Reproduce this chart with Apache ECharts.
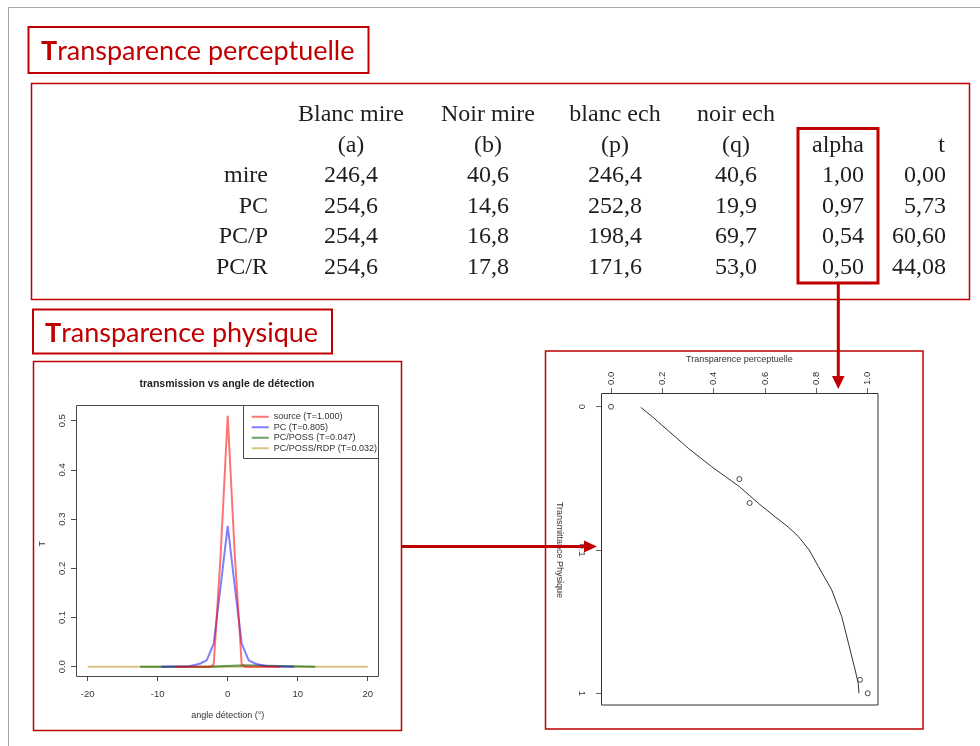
<!DOCTYPE html>
<html><head><meta charset="utf-8">
<script src="https://cdn.jsdelivr.net/npm/echarts@6/dist/echarts.min.js"></script>
<style>html,body{margin:0;padding:0;background:#fff}#c{width:980px;height:746px}</style>
</head><body><div id="c"></div>
<script>
// ---------- table data ----------
const colHeads = ['Blanc mire', 'Noir mire', 'blanc ech', 'noir ech'];
const colSubs = ['(a)', '(b)', '(p)', '(q)'];
const rowLabels = ['mire', 'PC', 'PC/P', 'PC/R'];
const blancMire = [246.4, 254.6, 254.4, 254.6];
const noirMire = [40.6, 14.6, 16.8, 17.8];
const blancEch = [246.4, 252.8, 198.4, 171.6];
const noirEch = [40.6, 19.9, 69.7, 53.0];
const alphaVals = [1.00, 0.97, 0.54, 0.50];
const tVals = [0.00, 5.73, 60.60, 44.08];

// ---------- left chart: transmission vs angle ----------
const seriesNames = ['source', 'PC', 'PC/POSS', 'PC/POSS/RDP'];
const seriesT = [1.000, 0.805, 0.047, 0.032];
const sourceX = [-7.5, -2.5, -2, -1, 0, 1, 2, 2.5, 7.5];
const sourceY = [0, 0, 0.004, 0.23, 0.51, 0.23, 0.004, 0, 0];
const pcX = [-9.5, -5.5, -4, -3, -2, -1, 0, 1, 2, 3, 4, 5.5, 9.5];
const pcY = [0, 0.001, 0.006, 0.013, 0.047, 0.165, 0.286, 0.165, 0.047, 0.013, 0.006, 0.001, 0];
const possX = [-12.5, -2.7, -2.5, 2.5, 2.7, 12.5];
const possY = [0, 0, 0.003, 0.003, 0, 0];
const rdpX = [-20, 20];
const rdpY = [0, 0];

// ---------- right chart: perceptual vs physical ----------
const ptAlpha = [0.00, 0.50, 0.54, 0.97, 1.00];
const ptT = [0.01, 0.032, 0.047, 0.805, 1.000];
const fitAlpha = [0.116, 0.160, 0.197, 0.250, 0.301, 0.392, 0.500, 0.574, 0.639, 0.690, 0.730, 0.772, 0.808, 0.860, 0.899, 0.925, 0.951, 0.963, 0.966];
const fitT = [0.0101, 0.0117, 0.0134, 0.0162, 0.0195, 0.0262, 0.0361, 0.0472, 0.0586, 0.0690, 0.0805, 0.100, 0.1306, 0.190, 0.292, 0.447, 0.686, 0.851, 1.0];

const zip = (a, b) => a.map((v, i) => [v, b[i]]);
const fr = (v, d) => v.toFixed(d).replace('.', ',');
const RED = '#c00000';
const SERIF = '24px "Liberation Serif"';
const leftColors = ['rgba(255,0,0,0.55)', 'rgba(0,0,255,0.5)', 'rgba(0,100,0,0.6)', 'rgba(184,134,11,0.5)'];
const leftX = [sourceX, pcX, possX, rdpX];
const leftY = [sourceY, pcY, possY, rdpY];
const legendNames = seriesNames.map((n, i) => n + ' (T=' + seriesT[i].toFixed(3) + ')');

function text(t, x, y, font, fill, align, valign, extra) {
  return Object.assign({
    type: 'text', x: x, y: y, z: 50,
    style: { text: t, font: font, fill: fill, align: align, textAlign: align,
             verticalAlign: valign || 'middle', textVerticalAlign: valign || 'middle' }
  }, extra || {});
}
function rect(x, y, w, h, stroke, lw) {
  return { type: 'rect', z: 40, shape: { x: x, y: y, width: w, height: h },
           style: { fill: 'none', stroke: stroke, lineWidth: lw } };
}
function boxTitle(t, x, y) {
  return { type: 'text', z: 50, x: x, y: y,
    style: { text: '{b|' + t[0] + '}' + t.slice(1), fontFamily: 'Lato', fontSize: 27, fill: RED,
      verticalAlign: 'middle', textVerticalAlign: 'middle',
      rich: { b: { fontFamily: 'Lato', fontSize: 27, fontWeight: 'bold', fill: RED } } } };
}

const graphics = [];
// outer slide frame
graphics.push({ type: 'polyline', z: 1, shape: { points: [[8.5, 746], [8.5, 7.5], [980, 7.5]] },
  style: { stroke: '#a6a6a6', lineWidth: 1, fill: 'none' } });

// title boxes
graphics.push(rect(28.5, 27, 340, 46, RED, 2));
graphics.push(boxTitle('Transparence perceptuelle', 41, 51));
graphics.push(rect(33, 309.5, 299, 44, RED, 2));
graphics.push(boxTitle('Transparence physique', 45, 333));

// table
graphics.push(rect(31.5, 83.5, 938, 216, RED, 1.5));
const colCenters = [351, 488, 615, 736];
const rowYs = [176, 206.5, 237, 267.5];
const numCols = [blancMire, noirMire, blancEch, noirEch];
const TXT = '#1e1e1e';
colHeads.forEach((h, i) => graphics.push(text(h, colCenters[i], 115, SERIF, TXT, 'center')));
colSubs.forEach((h, i) => graphics.push(text(h, colCenters[i], 146, SERIF, TXT, 'center')));
graphics.push(text('alpha', 864, 146, SERIF, TXT, 'right'));
graphics.push(text('t', 945, 146, SERIF, TXT, 'right'));
rowLabels.forEach((r, j) => {
  graphics.push(text(r, 268, rowYs[j], SERIF, TXT, 'right'));
  numCols.forEach((col, i) => graphics.push(text(fr(col[j], 1), colCenters[i], rowYs[j], SERIF, TXT, 'center')));
  graphics.push(text(fr(alphaVals[j], 2), 864, rowYs[j], SERIF, TXT, 'right'));
  graphics.push(text(fr(tVals[j], 2), 946, rowYs[j], SERIF, TXT, 'right'));
});
graphics.push(rect(798, 128.5, 80, 154.5, RED, 3));

// panels
graphics.push(rect(33.5, 361.5, 368, 369, RED, 1.5));
graphics.push(rect(545.5, 351, 377.5, 378, RED, 1.5));
// plot boxes
graphics.push(rect(76.5, 405.5, 302, 271, '#4a4a4a', 1));
graphics.push(rect(601.5, 393.5, 276.5, 311.5, '#333', 1));
// legend box
graphics.push(rect(243.5, 405.5, 135, 53, '#4a4a4a', 1));
// left chart title
graphics.push(text('transmission vs angle de détection', 227, 384.5, 'bold 10.5px "Liberation Sans"', '#222', 'center'));

// arrows
graphics.push({ type: 'line', z: 100, shape: { x1: 402, y1: 546.5, x2: 586, y2: 546.5 },
  style: { stroke: RED, lineWidth: 3 } });
graphics.push({ type: 'polygon', z: 100, shape: { points: [[584, 540.5], [597, 546.5], [584, 552.5]] },
  style: { fill: RED } });
graphics.push({ type: 'line', z: 100, shape: { x1: 838.3, y1: 283, x2: 838.3, y2: 378 },
  style: { stroke: RED, lineWidth: 3 } });
graphics.push({ type: 'polygon', z: 100, shape: { points: [[832, 376], [838.3, 389], [844.6, 376]] },
  style: { fill: RED } });

const R_FONT = 'Liberation Sans';
// drawn in reverse so the source curve sits on top (as in the original R plot)
const leftSeries = legendNames.map((n, i) => ({
  name: n, type: 'line', xAxisIndex: 0, yAxisIndex: 0,
  data: zip(leftX[i], leftY[i]), symbol: 'none', clip: false,
  lineStyle: { color: leftColors[i], width: 2 }, itemStyle: { color: leftColors[i] },
  emphasis: { disabled: true }
})).reverse();

const option = {
  animation: false,
  backgroundColor: '#fff',
  graphic: { elements: graphics },
  legend: {
    data: legendNames, orient: 'vertical', left: 251.7, top: 412.2,
    icon: 'path://M0,0h0.01v0.01H0z M0,3.5h17v2H0z M16.99,8.99h0.01v0.01h-0.01z',
    itemWidth: 17, itemHeight: 9, itemGap: 1.55, padding: 0, selectedMode: false,
    itemStyle: { borderWidth: 0 },
    textStyle: { fontSize: 9, color: '#333', fontFamily: R_FONT, lineHeight: 9 }
  },
  grid: [
    { left: 87.7, top: 420.7, width: 280, height: 246 },
    { left: 611, top: 406.7, width: 256.7, height: 286.6 }
  ],
  xAxis: [
    { gridIndex: 0, type: 'value', min: -20, max: 20, interval: 10, offset: 9.3,
      axisLine: { onZero: false, lineStyle: { color: '#4a4a4a' } },
      axisTick: { length: 5, lineStyle: { color: '#4a4a4a' } },
      axisLabel: { color: '#333', fontSize: 9.5, fontFamily: R_FONT, margin: 13 },
      splitLine: { show: false },
      name: 'angle détection (°)', nameLocation: 'middle', nameGap: 35,
      nameTextStyle: { color: '#333', fontSize: 9, fontFamily: R_FONT } },
    { gridIndex: 1, type: 'value', position: 'top', min: 0, max: 1, interval: 0.2, offset: 13.7,
      axisLine: { onZero: false, lineStyle: { color: '#666' } },
      axisTick: { length: 5, lineStyle: { color: '#666' } },
      axisLabel: { rotate: -90, color: '#333', fontSize: 9.5, fontFamily: R_FONT, margin: 8,
        formatter: v => v.toFixed(1) },
      splitLine: { show: false },
      name: 'Transparence perceptuelle', nameLocation: 'middle', nameGap: 29,
      nameTextStyle: { color: '#333', fontSize: 9, fontFamily: R_FONT } }
  ],
  yAxis: [
    { gridIndex: 0, type: 'value', min: 0, max: 0.5, interval: 0.1, offset: 11.7,
      axisLine: { onZero: false, lineStyle: { color: '#4a4a4a' } },
      axisTick: { length: 5, lineStyle: { color: '#4a4a4a' } },
      axisLabel: { rotate: 90, color: '#333', fontSize: 9.5, fontFamily: R_FONT, margin: 9,
        formatter: v => v.toFixed(1) },
      splitLine: { show: false },
      name: 'T', nameLocation: 'middle', nameRotate: 90, nameGap: 29,
      nameTextStyle: { color: '#333', fontSize: 9, fontFamily: R_FONT } },
    { gridIndex: 1, type: 'log', logBase: 10, min: 0.01, max: 1, inverse: true, offset: 10,
      axisLine: { onZero: false, lineStyle: { color: '#666' } },
      axisTick: { length: 5, lineStyle: { color: '#666' } },
      axisLabel: { rotate: -90, color: '#333', fontSize: 9.5, fontFamily: R_FONT, margin: 14,
        formatter: v => (v < 0.02 ? '0' : String(+v.toPrecision(2))) },
      splitLine: { show: false }, minorTick: { show: false },
      name: 'Transmittance Physique', nameLocation: 'middle', nameRotate: -90, nameGap: 37,
      nameTextStyle: { color: '#333', fontSize: 9, fontFamily: R_FONT } }
  ],
  series: leftSeries.concat([
    { name: 'fit', type: 'line', xAxisIndex: 1, yAxisIndex: 1, data: zip(fitAlpha, fitT),
      symbol: 'none', smooth: false, clip: false,
      lineStyle: { color: '#333', width: 1 }, emphasis: { disabled: true } },
    { name: 'points', type: 'scatter', xAxisIndex: 1, yAxisIndex: 1, data: zip(ptAlpha, ptT),
      symbol: 'circle', symbolSize: 5, clip: false,
      itemStyle: { color: '#fff', borderColor: '#222', borderWidth: 1 }, emphasis: { disabled: true } }
  ])
};

const chart = echarts.init(document.getElementById('c'), null, { renderer: 'canvas' });
chart.setOption(option);
</script></body></html>
